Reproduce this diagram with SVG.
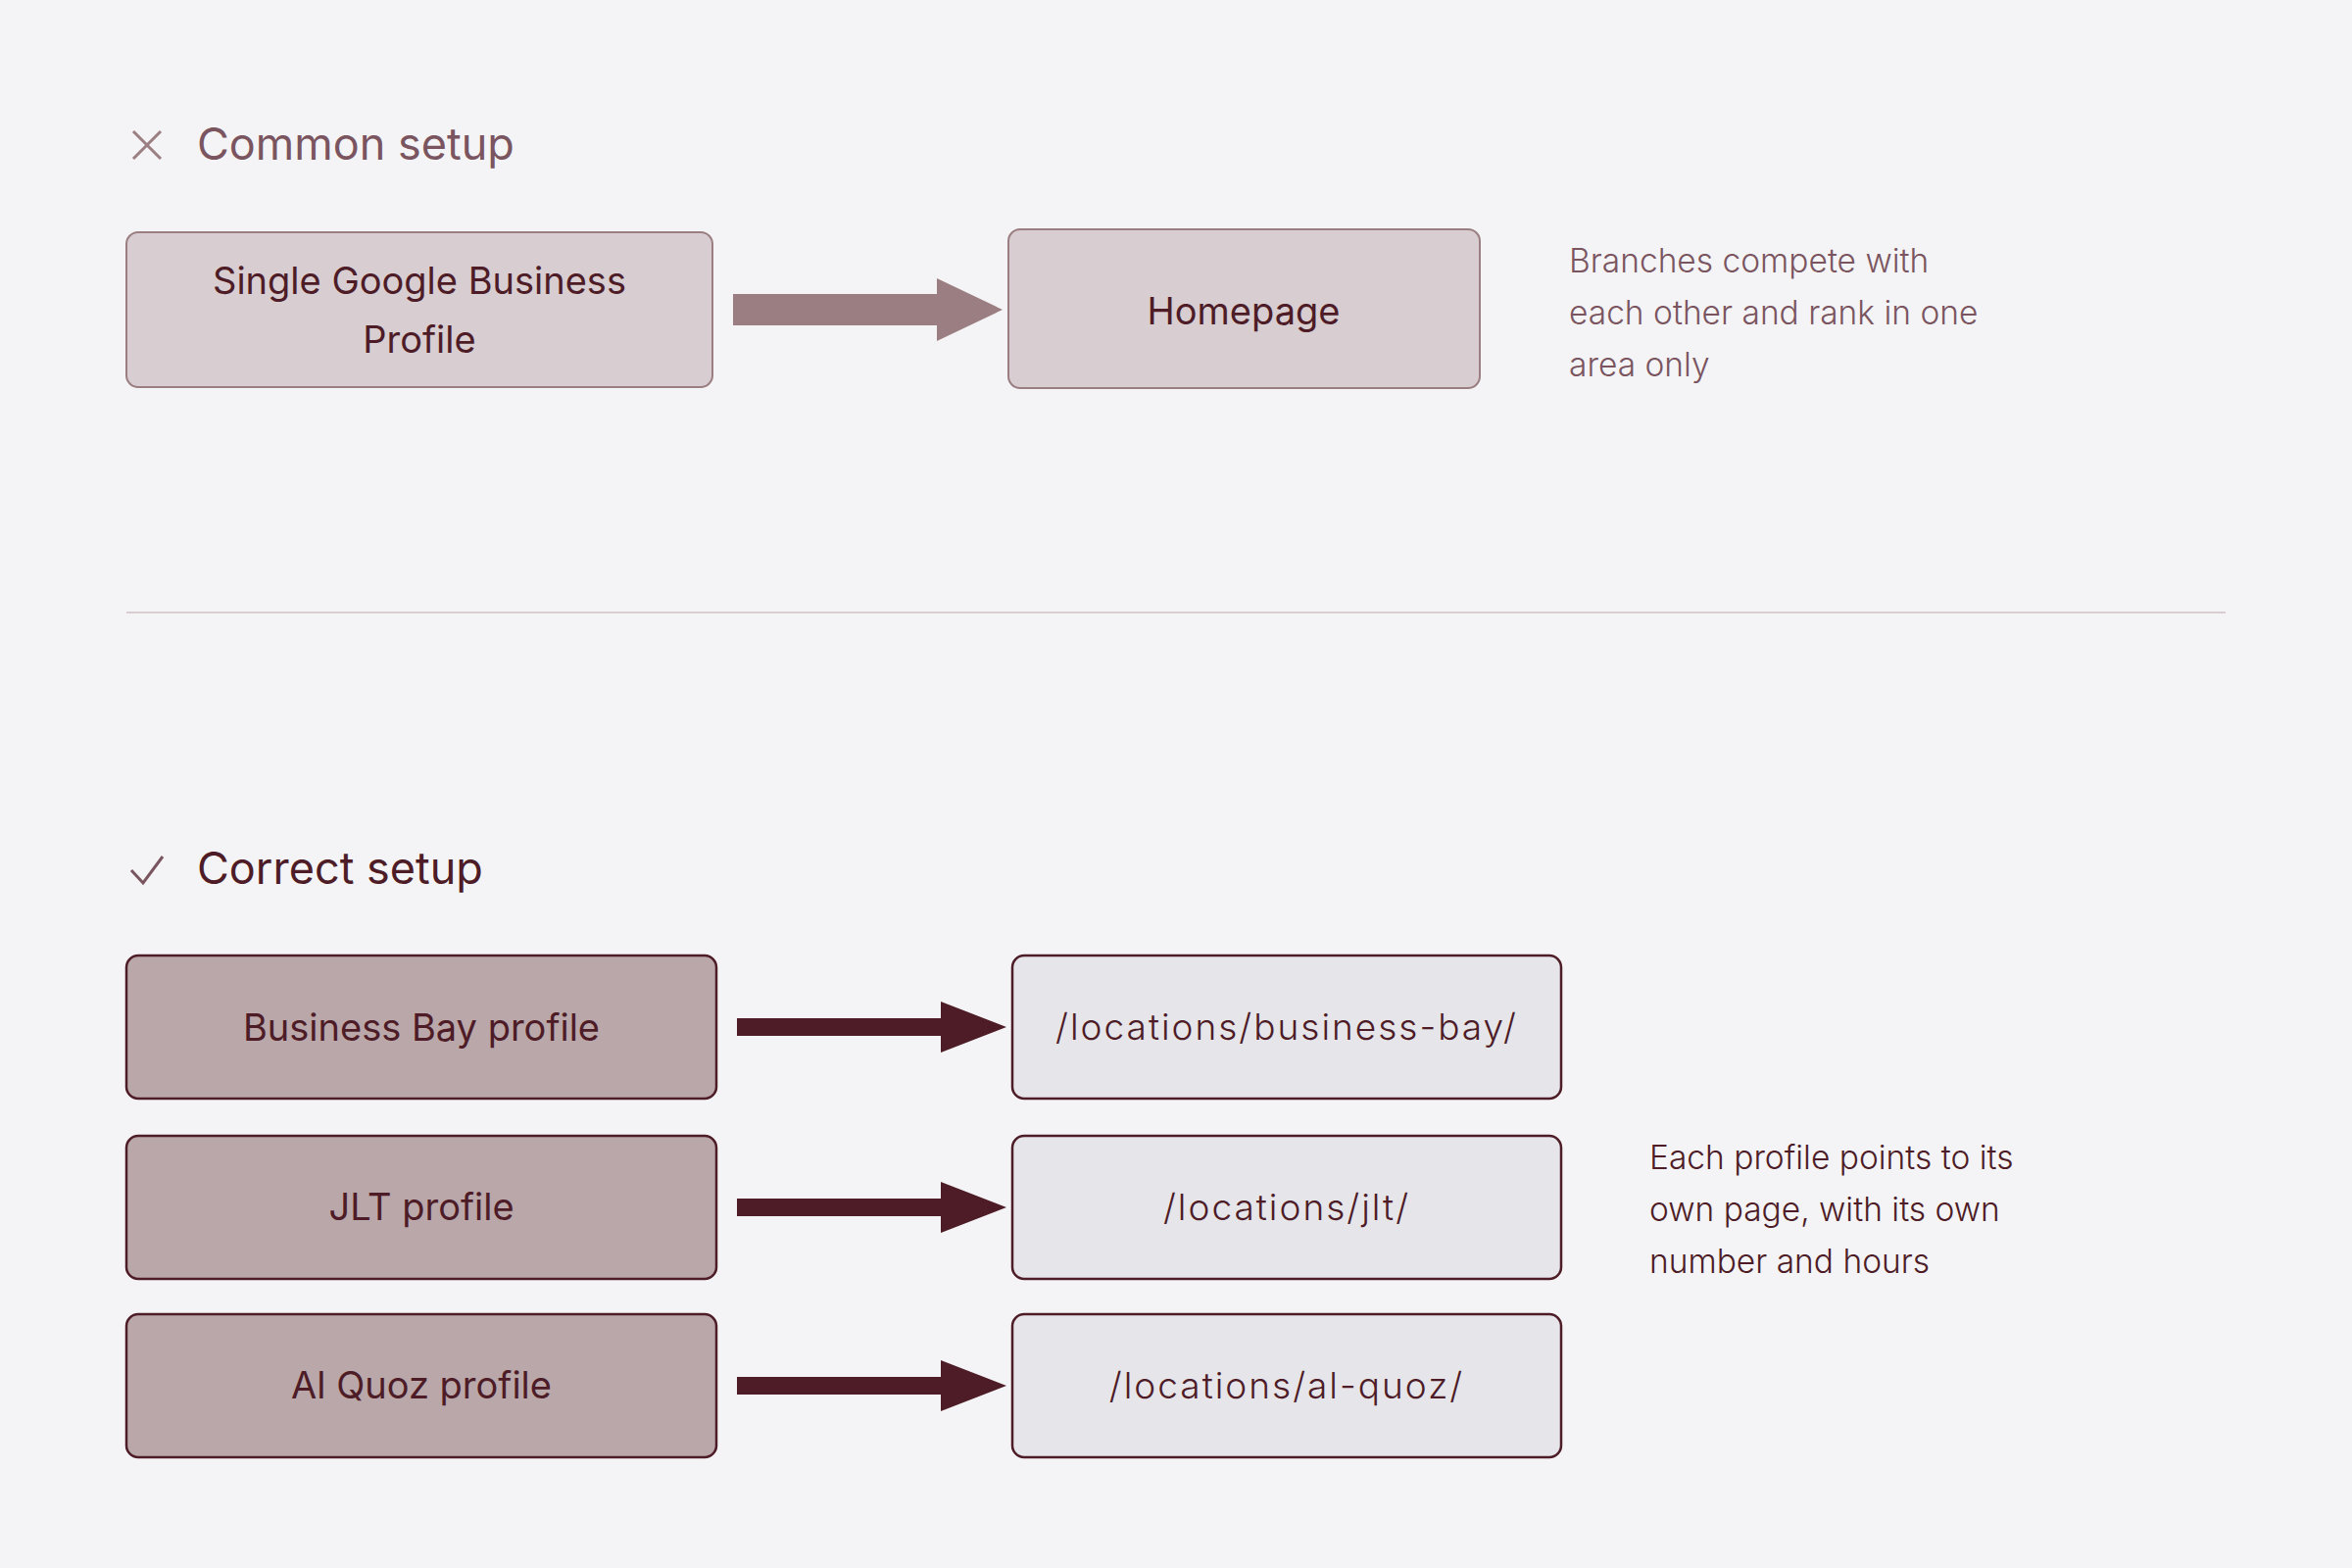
<svg xmlns="http://www.w3.org/2000/svg" width="2400" height="1600" viewBox="0 0 2400 1600">
  <style>
    .t { font-family: Inter, "Noto Sans", "Liberation Sans", sans-serif; }
    .hdr { font-size: 45px; }
    .lbl { font-size: 38px; fill: #4d1c26; text-anchor: middle; font-weight: 400; }
    .url { font-size: 37px; fill: #4d1c26; text-anchor: middle; font-weight: 300; letter-spacing: 2px; }
    .note { font-size: 33.5px; font-weight: 300; }
    .boxA { fill: #d8cdd1; stroke: #9a7e82; stroke-width: 2; }
    .boxB { fill: #baa7aa; stroke: #4d1c26; stroke-width: 2.5; }
    .boxC { fill: #e6e5ea; stroke: #4d1c26; stroke-width: 2.5; }
  </style>
  <rect x="0" y="0" width="2400" height="1600" fill="#f4f4f6"/>

  <g id="header-common">
    <path d="M136 134 L164 162 M164 134 L136 162" stroke="#9a7e82" stroke-width="3" fill="none"/>
    <text class="t hdr" x="201" y="163" fill="#7a5560">Common setup</text>
  </g>

  <g id="node-single-gbp">
    <rect class="boxA" x="129" y="237" width="598" height="158" rx="12"/>
    <text class="t lbl" x="428" y="300">Single Google Business</text>
    <text class="t lbl" x="428" y="360">Profile</text>
  </g>

  <g id="node-homepage">
    <rect class="boxA" x="1029" y="234" width="481" height="162" rx="12"/>
    <text class="t lbl" x="1269" y="331">Homepage</text>
  </g>

  <g id="note-common">
    <text class="t note" fill="#7a5560">
      <tspan x="1601" y="278">Branches compete with</tspan>
      <tspan x="1601" y="331">each other and rank in one</tspan>
      <tspan x="1601" y="384">area only</tspan>
    </text>
  </g>

  <line id="divider" x1="129" y1="625" x2="2271" y2="625" stroke="#d9cdd1" stroke-width="2"/>

  <g id="header-correct">
    <path d="M134 888 L146 901 L166 874" stroke="#7a5560" stroke-width="3" fill="none"/>
    <text class="t hdr" x="201" y="902" fill="#4d1c26">Correct setup</text>
  </g>

  <g id="node-business-bay">
    <rect class="boxB" x="129" y="975" width="602" height="146" rx="12"/>
    <text class="t lbl" x="430" y="1062">Business Bay profile</text>
  </g>
  <g id="node-jlt">
    <rect class="boxB" x="129" y="1159" width="602" height="146" rx="12"/>
    <text class="t lbl" x="430" y="1245">JLT profile</text>
  </g>
  <g id="node-al-quoz">
    <rect class="boxB" x="129" y="1341" width="602" height="146" rx="12"/>
    <text class="t lbl" x="430" y="1427">Al Quoz profile</text>
  </g>

  <g id="node-url-business-bay">
    <rect class="boxC" x="1033" y="975" width="560" height="146" rx="12"/>
    <text class="t url" x="1313" y="1061">/locations/business-bay/</text>
  </g>
  <g id="node-url-jlt">
    <rect class="boxC" x="1033" y="1159" width="560" height="146" rx="12"/>
    <text class="t url" x="1313" y="1245">/locations/jlt/</text>
  </g>
  <g id="node-url-al-quoz">
    <rect class="boxC" x="1033" y="1341" width="560" height="146" rx="12"/>
    <text class="t url" x="1313" y="1427">/locations/al-quoz/</text>
  </g>

  <g id="note-correct">
    <text class="t note" fill="#4d1c26">
      <tspan x="1683" y="1193">Each profile points to its</tspan>
      <tspan x="1683" y="1246">own page, with its own</tspan>
      <tspan x="1683" y="1299">number and hours</tspan>
    </text>
  </g>

  <g id="connectors">
    <polygon points="748,300 956,300 956,284 1023,316 956,348 956,332 748,332" fill="#9a7e82"/>
    <polygon points="752,1039 960,1039 960,1022 1027,1048 960,1074 960,1057 752,1057" fill="#4d1c26"/>
    <polygon points="752,1223 960,1223 960,1206 1027,1232 960,1258 960,1241 752,1241" fill="#4d1c26"/>
    <polygon points="752,1405 960,1405 960,1388 1027,1414 960,1440 960,1423 752,1423" fill="#4d1c26"/>
  </g>
</svg>
